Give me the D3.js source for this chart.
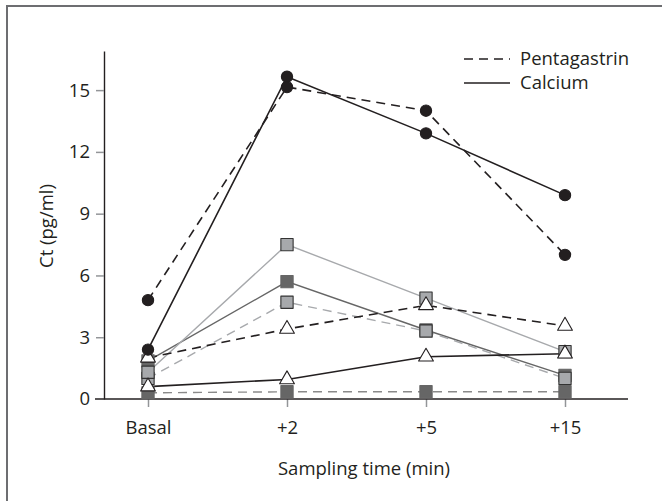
<!DOCTYPE html>
<html>
<head>
<meta charset="utf-8">
<script src="https://cdn.jsdelivr.net/npm/d3@7"></script>
<style>
    body { margin: 0; background: #fff; }
    text { font-family: "Open Sans", sans-serif; fill: #231f20; }
</style>
</head>
<body>
<script>
// sampling times
var categories = ["Basal", "+2", "+5", "+15"];

// Ct (pg/ml) per patient, pentagastrin (dashed) and calcium (solid)
var circlePenta = [4.8, 15.15, 14.0, 7.0];
var circleCalc = [2.4, 15.65, 12.9, 9.9];
var trianglePenta = [2.0, 3.4, 4.55, 3.55];
var triangleCalc = [0.6, 0.95, 2.05, 2.2];
var lightSquarePenta = [1.0, 4.7, 3.3, 1.0];
var lightSquareCalc = [1.3, 7.5, 4.9, 2.3];
var darkSquarePenta = [0.3, 0.35, 0.35, 0.35];
var darkSquareCalc = [1.85, 5.7, 3.35, 1.15];

var yTicks = [0, 3, 6, 9, 12, 15];
var legendItems = ["Pentagastrin", "Calcium"];

var width = 662
var height = 501
var fontSize = 18.5

// drawing order: lines and markers lower in this list are on top
var seriesList = [
    { values: darkSquarePenta, marker: "square", fill: "#666", stroke: "#666", line: "#8a8a8a", dashed: true },
    { values: darkSquareCalc, marker: "square", fill: "#666", stroke: "#666", line: "#666", dashed: false },
    { values: lightSquarePenta, marker: "square", fill: "#a7a9ac", stroke: "#333", line: "#a7a9ac", dashed: true },
    { values: lightSquareCalc, marker: "square", fill: "#a7a9ac", stroke: "#333", line: "#a7a9ac", dashed: false },
    { values: trianglePenta, marker: "triangle", fill: "#fff", stroke: "#231f20", line: "#231f20", dashed: true },
    { values: triangleCalc, marker: "triangle", fill: "#fff", stroke: "#231f20", line: "#231f20", dashed: false },
    { values: circlePenta, marker: "circle", fill: "#231f20", stroke: "#231f20", line: "#231f20", dashed: true },
    { values: circleCalc, marker: "circle", fill: "#231f20", stroke: "#231f20", line: "#231f20", dashed: false }
];

const svg = d3.select("body").append("svg")
    .attr("width", width)
    .attr("height", height);

// frame (left and top edges only)
svg.append("path")
    .attr("d", "M7,501V6H662")
    .attr("fill", "none")
    .attr("stroke", "#6d6e71")
    .attr("stroke-width", 2);

var x = d3.scalePoint()
    .domain(categories)
    .range([148, 565]);

var y = d3.scaleLinear()
    .domain([0, 16.9])
    .range([399, 51]);

// y axis
var yAxis = svg.append("g")
    .attr("transform", "translate(104,0)")
    .call(d3.axisLeft(y).tickValues(yTicks).tickSize(8).tickSizeOuter(0).tickPadding(6));
yAxis.select(".domain").attr("stroke", "#231f20").attr("stroke-width", 1.4);
yAxis.selectAll(".tick line").attr("stroke", "#939598").attr("stroke-width", 1.5);
yAxis.selectAll(".tick").filter(d => d === 0).select("line").remove();
yAxis.selectAll(".tick text")
    .attr("font-size", fontSize)
    .attr("font-family", "Open Sans, sans-serif")
    .attr("fill", "#231f20");

// x axis
var xAxis = svg.append("g")
    .attr("transform", "translate(0,399)")
    .call(d3.axisBottom(x).tickSize(8).tickPadding(14));
xAxis.select(".domain").remove();
xAxis.append("line")
    .attr("x1", 95)
    .attr("x2", 628)
    .attr("stroke", "#231f20")
    .attr("stroke-width", 1.4);
xAxis.selectAll(".tick line").attr("stroke", "#939598").attr("stroke-width", 1.5);
xAxis.selectAll(".tick text")
    .attr("font-size", fontSize)
    .attr("font-family", "Open Sans, sans-serif")
    .attr("fill", "#231f20");

svg.append("text")
    .attr("x", 364)
    .attr("y", 475)
    .attr("text-anchor", "middle")
    .attr("font-size", fontSize)
    .text("Sampling time (min)");

svg.append("text")
    .attr("transform", "translate(53,226) rotate(-90)")
    .attr("text-anchor", "middle")
    .attr("font-size", fontSize)
    .text("Ct (pg/ml)");

// lines
var line = d3.line()
    .x((d, i) => x(categories[i]))
    .y(d => y(d));

svg.append("g")
    .attr("class", "lines")
    .selectAll("path")
    .data(seriesList)
    .enter()
    .append("path")
    .attr("d", d => line(d.values))
    .attr("fill", "none")
    .attr("stroke", d => d.line)
    .attr("stroke-width", d => d.line === "#231f20" ? 1.6 : 1.4)
    .attr("stroke-dasharray", d => d.dashed ? "9,6" : null);

// markers
var symbolTypes = {
    square: d3.symbolSquare,
    triangle: d3.symbolTriangle,
    circle: d3.symbolCircle
};
var symbolSizes = { square: 150, triangle: 95, circle: 100 };

var markerGroups = svg.append("g")
    .attr("class", "markers")
    .selectAll("g")
    .data(seriesList)
    .enter()
    .append("g");

markerGroups.selectAll("path")
    .data(d => d.values.map((v, i) => ({ v: v, i: i, s: d })))
    .enter()
    .append("path")
    .attr("transform", d => `translate(${x(categories[d.i])},${y(d.v)})`)
    .attr("d", d => d3.symbol().type(symbolTypes[d.s.marker]).size(symbolSizes[d.s.marker])())
    .attr("fill", d => d.s.fill)
    .attr("stroke", d => d.s.stroke)
    .attr("stroke-width", 1.1)
    .attr("stroke-linejoin", "round");

// legend
var legend = svg.append("g")
    .attr("class", "legend")
    .selectAll("g")
    .data(legendItems)
    .enter()
    .append("g")
    .attr("transform", (d, i) => `translate(464,${59 + i * 24})`);

legend.append("line")
    .attr("x1", 0)
    .attr("x2", 46)
    .attr("stroke", "#231f20")
    .attr("stroke-width", 1.6)
    .attr("stroke-dasharray", (d, i) => i === 0 ? "9,6" : null);

legend.append("text")
    .attr("x", 56)
    .attr("dy", "0.35em")
    .attr("font-size", fontSize)
    .text(d => d);
</script>
</body>
</html>
